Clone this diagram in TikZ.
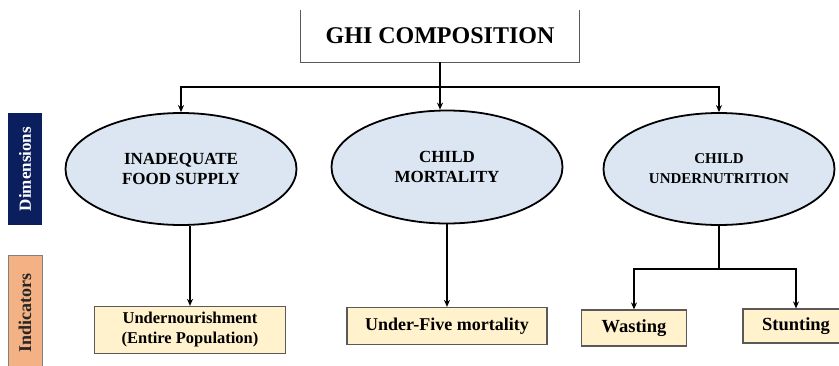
\documentclass[tikz,border=0pt]{standalone}
\usepackage{fontspec}
\setmainfont{Liberation Serif}
\usetikzlibrary{shapes.geometric, arrows.meta, positioning}
\definecolor{ellblue}{HTML}{DCE6F2}
\definecolor{indyellow}{HTML}{FFF2CC}
\definecolor{dimnavy}{HTML}{0B1F5E}
\definecolor{indorange}{HTML}{F4B183}

\begin{document}
\begin{tikzpicture}[x=1pt, y=-1pt, >={Stealth[length=7pt,width=6pt]}, font=\bfseries,
    dimell/.style={ellipse, draw, line width=1.8pt, fill=ellblue, minimum width=231pt, minimum height=112pt, inner sep=0pt, align=center},
    indbox/.style={rectangle, draw=gray!70!black, line width=1.2pt, fill=indyellow, inner sep=0pt, align=center},
    sidebox/.style={rectangle, inner sep=0pt, minimum height=34pt, rotate=90},
    link/.style={line width=2.2pt}]
    \useasboundingbox (0,0) rectangle (839,365);
    \clip (0,0) rectangle (839,365);

    % title, top edge cut off
    \node[minimum width=278pt, minimum height=52pt, font=\bfseries\fontsize{24}{28}\selectfont] (title) at (440,36) {GHI COMPOSITION};
    \draw[gray!70!black, line width=1pt] (title.north west) |- (title.south east) -- (title.north east);

    % side labels
    \node[sidebox, minimum width=112pt, fill=dimnavy, text=white, font=\bfseries\fontsize{17}{20}\selectfont] (dimlab) at (25,169) {Dimensions};
    \node[sidebox, minimum width=116pt, draw=gray, line width=0.8pt, fill=indorange, text=black!85, font=\bfseries\fontsize{18}{20}\selectfont] (indlab) at (25,313) {Indicators};

    % dimensions
    \node[dimell, font=\bfseries\fontsize{17}{20}\selectfont] (food) at (181,169) {INADEQUATE\\FOOD SUPPLY};
    \node[dimell, minimum height=113pt, font=\bfseries\fontsize{17}{20}\selectfont] (mort) at (447,167) {CHILD\\MORTALITY};
    \node[dimell, font=\bfseries\fontsize{15}{20}\selectfont] (under) at (719,169) {CHILD\\UNDERNUTRITION};

    % indicators
    \node[indbox, minimum width=191pt, minimum height=47pt, font=\bfseries\fontsize{16.5}{20}\selectfont] (nourish) at (190,330) {Undernourishment\\(Entire Population)};
    \node[indbox, minimum width=200pt, minimum height=37pt, font=\bfseries\fontsize{18}{20}\selectfont] (five) at (447,326) {Under-Five mortality};
    \node[indbox, minimum width=105pt, minimum height=36pt, font=\bfseries\fontsize{18.5}{20}\selectfont] (waste) at (634,328) {Wasting};
    \node[indbox, minimum width=106pt, minimum height=34pt, font=\bfseries\fontsize{18.5}{20}\selectfont] (stunt) at (796,326) {Stunting};

    % connectors
    \draw[link, ->] (title.south) -- ++(0,25) -| (food.north);
    \draw[link, ->] (title.south) -- ++(0,25) -| (under.north);
    \draw[link, ->] (title.south) -- (title.south |- mort.north);
    \draw[link, ->] (nourish.north |- food.south) -- (nourish.north);
    \draw[link, ->] (mort.south) -- (five.north);
    \draw[link, ->] (under.south) -- ++(0,43) -| (waste.north);
    \draw[link, ->] (under.south) -- ++(0,43) -| (stunt.north);
\end{tikzpicture}
\end{document}
